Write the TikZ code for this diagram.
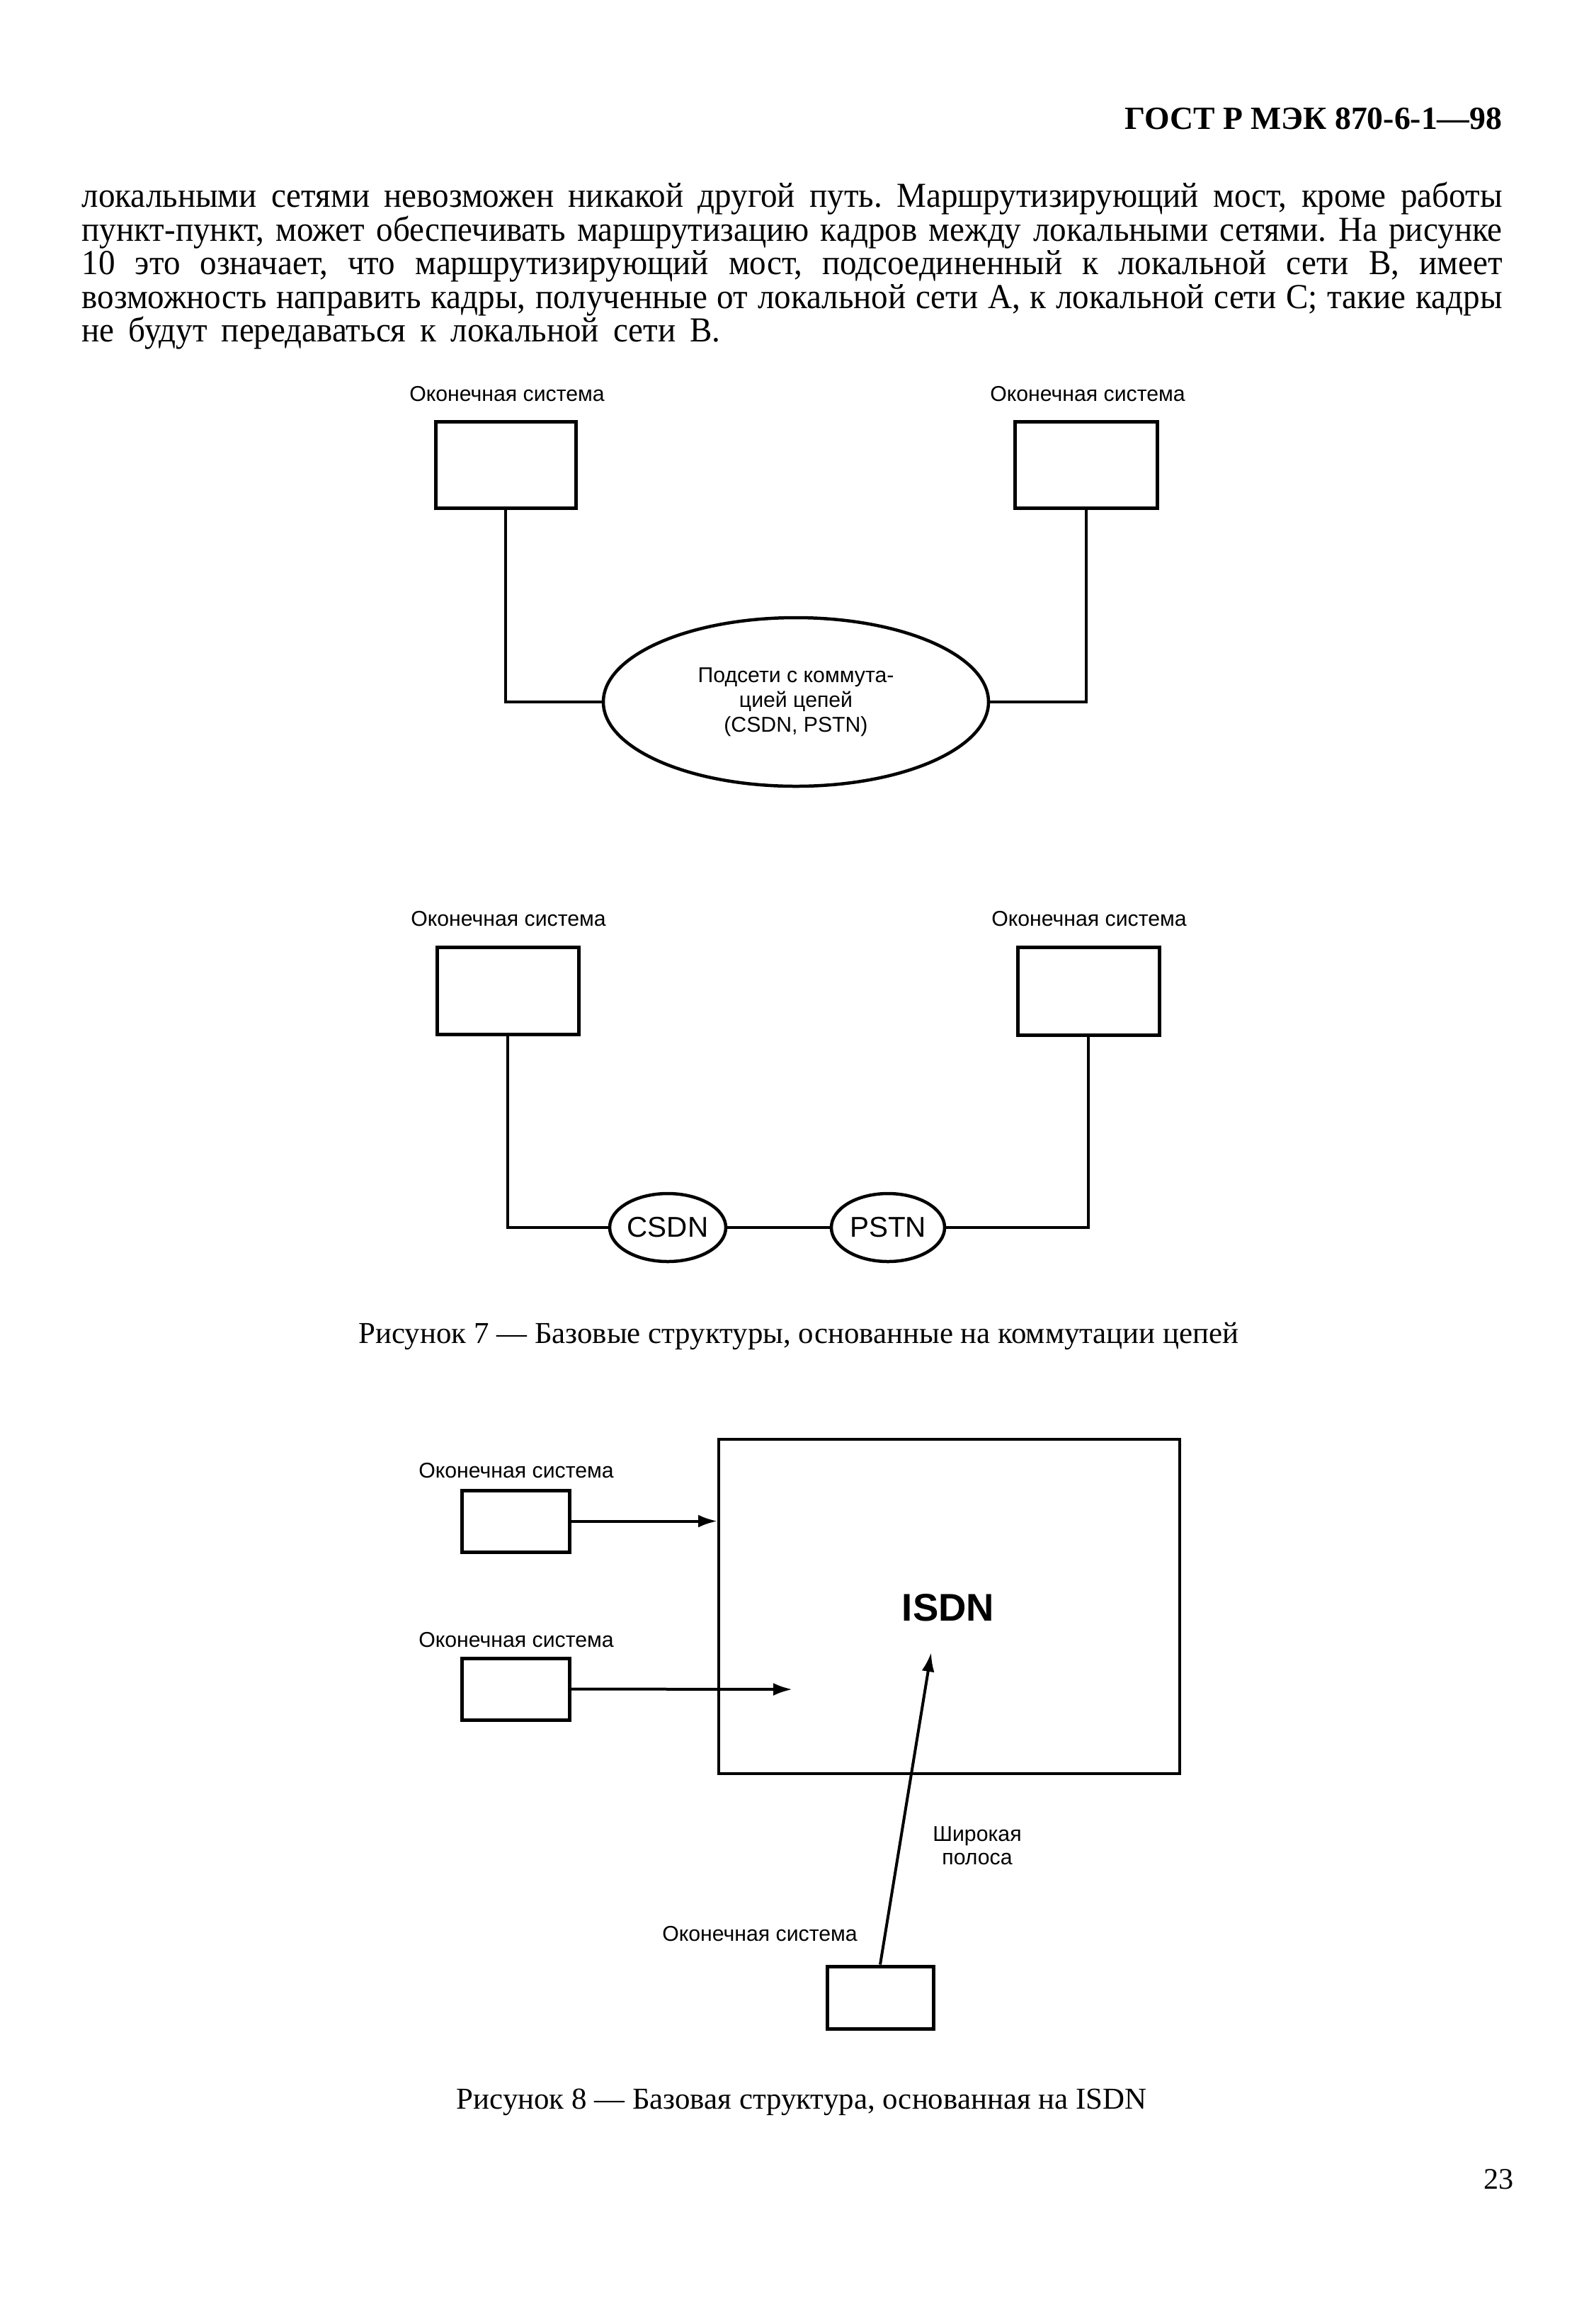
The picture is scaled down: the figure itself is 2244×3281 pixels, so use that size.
\documentclass[tikz,border=0pt]{standalone}
\usepackage{fontspec}
\setmainfont{Liberation Serif}
\setsansfont{Liberation Sans}
\newfontfamily\bodyfont{Liberation Serif}[FakeStretch=0.95]
\usetikzlibrary{shapes.geometric,arrows.meta}
\frenchspacing
\begin{document}
\begin{tikzpicture}[x=0.1mm,y=-0.1mm,
  sysbox/.style={draw,line width=0.5mm,inner sep=0,minimum width=20mm,minimum height=12.2mm},
  smallbox/.style={draw,line width=0.5mm,inner sep=0,minimum width=15.2mm,minimum height=8.7mm},
  bigbox/.style={draw,line width=0.4mm,inner sep=0,minimum width=65.1mm,minimum height=47.2mm},
  net/.style={ellipse,draw,line width=0.45mm,inner sep=0,align=center},
  conn/.style={line width=0.4mm},
  arr/.style={line width=0.4mm,-{Latex[length=2.7mm,width=1.8mm]}},
  lbl/.style={anchor=base,inner sep=0,font={\sffamily\fontsize{8.6}{9.9}\selectfont}},
  bodyline/.style={anchor=base west,inner sep=0,font={\bodyfont\fontsize{14.1}{16}\selectfont\frenchspacing}},
  caption/.style={anchor=base,inner sep=0,font={\fontsize{12.2}{15}\selectfont}}]
\path[fill=white,use as bounding box] (0,0) rectangle (2244,3281);

% header
\node[anchor=base east,inner sep=0,font={\bfseries\fontsize{13}{15}\selectfont}] (hdr) at (2122,182) {ГОСТ Р МЭК 870-6-1—98};

% paragraph
\node[bodyline] (p1) at (115,292) {\makebox[200.6mm][s]{локальными сетями невозможен никакой другой путь. Маршрутизирующий мост, кроме работы}};
\node[bodyline] (p2) at (115,340) {\makebox[200.6mm][s]{пункт-пункт, может обеспечивать маршрутизацию кадров между локальными сетями. На рисунке}};
\node[bodyline] (p3) at (115,387) {\makebox[200.6mm][s]{10 это означает, что маршрутизирующий мост, подсоединенный к локальной сети B, имеет}};
\node[bodyline] (p4) at (115,435) {\makebox[200.6mm][s]{возможность направить кадры, полученные от локальной сети A, к локальной сети C; такие кадры}};
\node[bodyline] (p5) at (115,482) {\makebox[90.2mm][s]{не будут передаваться к локальной сети B.}};

% Figure 7, upper part
\node[lbl] (l1) at (716,566) {Оконечная система};
\node[lbl] (l2) at (1536,566) {Оконечная система};
\node[sysbox,minimum width=19.8mm] (b1) at (714,656) {};
\node[sysbox,minimum width=20.1mm] (b2) at (1534,656) {};
\node[net,minimum width=54.4mm,minimum height=23.8mm,font={\sffamily\fontsize{8.6}{10}\selectfont}] (sub) at (1124,991) {Подсети с коммута-\\цией цепей\\(CSDN, PSTN)};
\draw[conn] (b1.south) |- (sub.west);
\draw[conn] (b2.south) |- (sub.east);

% Figure 7, lower part
\node[lbl] (l3) at (718,1307) {Оконечная система};
\node[lbl] (l4) at (1538,1307) {Оконечная система};
\node[sysbox,minimum height=12.3mm] (b3) at (717,1398.5) {};
\node[sysbox,minimum height=12.4mm] (b4) at (1537,1399) {};
\node[net,minimum width=16.4mm,minimum height=9.6mm,font={\sffamily\fontsize{11.5}{13}\selectfont}] (csdn) at (943,1733) {CSDN};
\node[net,minimum width=16mm,minimum height=9.6mm,font={\sffamily\fontsize{11.5}{13}\selectfont}] (pstn) at (1254,1733) {PSTN};
\draw[conn] (b3.south) |- (csdn.west);
\draw[conn] (csdn.east) -- (pstn.west);
\draw[conn] (pstn.east) -| (b4.south);

\node[caption] (cap7) at (1128,1896) {Рисунок 7 — Базовые структуры, основанные на коммутации цепей};

% Figure 8
\node[bigbox] (isdn) at (1340.5,2268) {};
\node[inner sep=0,font={\sffamily\bfseries\fontsize{15.5}{18}\selectfont}] (isdnlbl) at (1339,2270) {ISDN};
\node[lbl] (l5) at (729,2086) {Оконечная система};
\node[smallbox] (e1) at (728,2147.5) {};
\node[lbl] (l6) at (729,2325) {Оконечная система};
\node[smallbox] (e2) at (728,2384.5) {};
\node[lbl] (l7) at (1073,2740) {Оконечная система};
\node[smallbox,minimum width=15mm,minimum height=8.8mm] (e3) at (1243,2820) {};
\coordinate (t2) at (1119,2385);
\coordinate (t3) at (1315,2333);
\draw[arr] (e1.east) -- (e1.east -| isdn.west);
\draw[arr] (e2.east) -- (t2);
\draw[arr] (e3.north) -- (t3);
\node[align=center,inner sep=0,font={\sffamily\fontsize{8.6}{9.4}\selectfont}] (wide) at (1380,2606) {Широкая\\полоса};

\node[caption] (cap8) at (1132,2977) {Рисунок 8 — Базовая структура, основанная на ISDN};

% page number
\node[anchor=base east,inner sep=0,font={\fontsize{12}{14}\selectfont}] (pg) at (2138,3090) {23};
\end{tikzpicture}
\end{document}
